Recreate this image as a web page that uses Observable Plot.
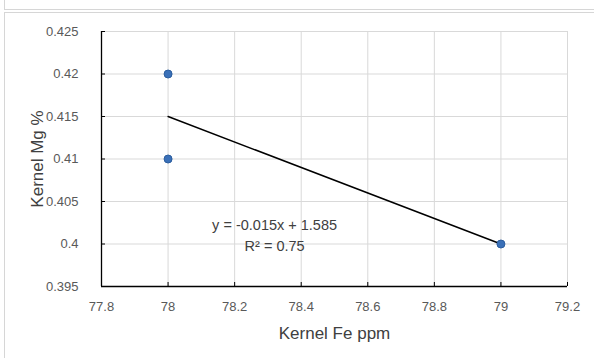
<!DOCTYPE html>
<html>
<head>
<meta charset="utf-8">
<script src="https://cdn.jsdelivr.net/npm/d3@7"></script>
<script src="https://cdn.jsdelivr.net/npm/@observablehq/plot@0.6"></script>
<style>
  html, body { margin: 0; padding: 0; background: #fff; width: 594px; height: 358px; overflow: hidden; }
  #wrap { position: relative; width: 594px; height: 358px; }
  .frame-top { position: absolute; left: 4px; top: -10px; width: 700px; height: 18px; border: 1px solid #d6d6d6; }
  .frame-chart { position: absolute; left: 4px; top: 12px; width: 700px; height: 500px; border: 1px solid #d6d6d6; }
  #chart { position: absolute; left: 0; top: 0; }
</style>
</head>
<body>
<div id="wrap">
  <div class="frame-top"></div>
  <div class="frame-chart"></div>
  <div id="chart"></div>
</div>
<script>
const feValues = [78, 78, 79];
const mgValues = [0.42, 0.41, 0.40];
const xTicks = [77.8, 78, 78.2, 78.4, 78.6, 78.8, 79, 79.2];
const yTicks = [0.395, 0.4, 0.405, 0.41, 0.415, 0.42, 0.425];
const equationLabel = ["y = -0.015x + 1.585", "R² = 0.75"];
const equationAnchor = { x: 78.32, y: 0.40118 };

const points = feValues.map((x, i) => ({ x, y: mgValues[i] }));

const plot = Plot.plot({
  width: 594,
  height: 358,
  marginLeft: 101,
  marginRight: 27,
  marginTop: 31,
  marginBottom: 72,
  style: { fontFamily: "'Liberation Sans', Arial, sans-serif", fontSize: "13px", color: "#595959", background: "transparent" },
  x: { domain: [77.8, 79.2], ticks: xTicks },
  y: { domain: [0.395, 0.425], ticks: yTicks },
  marks: [
    Plot.gridX(xTicks, { stroke: "#d9d9d9", strokeOpacity: 1, strokeWidth: 1 }),
    Plot.gridY(yTicks, { stroke: "#d9d9d9", strokeOpacity: 1, strokeWidth: 1 }),
    Plot.axisX(xTicks, { tickSize: -4, tickPadding: 19, tickFormat: d => String(d), stroke: "#000", fill: "#595959", label: null }),
    Plot.axisY(yTicks, { tickSize: -4, tickPadding: 27, tickFormat: d => String(d), stroke: "#000", fill: "#595959", label: null }),
    Plot.ruleX([77.8], { stroke: "#000", strokeWidth: 1.3 }),
    Plot.ruleY([0.395], { stroke: "#000", strokeWidth: 1.3 }),
    Plot.linearRegressionY(points, { x: "x", y: "y", stroke: "#000", strokeWidth: 1.5, ci: 0 }),
    Plot.dot(points, { x: "x", y: "y", r: 4, fill: "#3a70b8", stroke: "#2b5d9e", strokeWidth: 1 }),
    Plot.text([equationAnchor], { x: "x", y: "y", text: () => equationLabel.join("\n"), lineHeight: 1.45, fontSize: 14.5, fill: "#404040" }),
    Plot.text(["Kernel Fe ppm"], { frameAnchor: "bottom", textAnchor: "middle", lineAnchor: "middle", dy: 47, text: d => d, fontSize: 17, fill: "#404040" }),
    Plot.text(["Kernel Mg %"], { frameAnchor: "left", textAnchor: "middle", lineAnchor: "middle", dx: -64, rotate: -90, text: d => d, fontSize: 17, fill: "#404040" })
  ]
});
document.getElementById("chart").appendChild(plot);
</script>
</body>
</html>
